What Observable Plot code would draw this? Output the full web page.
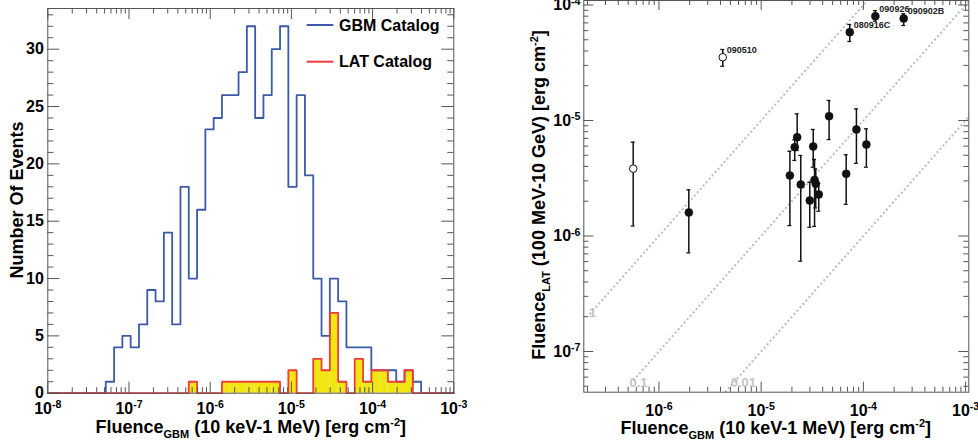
<!DOCTYPE html>
<html><head><meta charset="utf-8">
<script src="https://cdn.jsdelivr.net/npm/d3@7"></script>
<script src="https://cdn.jsdelivr.net/npm/@observablehq/plot@0.6"></script>
<style>
body{margin:0;background:#fff;}
#wrap{position:relative;width:978px;height:444px;overflow:hidden;background:#fff;}
#wrap svg{position:absolute;top:0;}
</style></head><body><div id="wrap"></div>
<script>
// ---------- data: left histogram ----------
const gbmCounts = [1,4,5,4,6,9,8,14,6,18,10,16,23,24,26,26,28,32,24,26,30,32,18,26,19,10,5,10,8,4,4,4,2,2,2,1,2,1];
const latCounts = [0,0,0,0,0,0,0,0,0,0,1,0,0,0,1,1,1,1,1,1,1,0,2,0,0,3,2,7,1,0,3,1,2,2,1,1,2,0];
const binStartLog = -7.286;   // log10 of first bin's lower edge
const binWidthLog = 0.1022;   // bin width in decades
const histXTicks = [1e-8, 1e-7, 1e-6, 1e-5, 1e-4, 1e-3];
const histYTicks = [0, 5, 10, 15, 20, 25, 30];
const legendNames = ["GBM Catalog", "LAT Catalog"];

// ---------- data: right scatter ----------
const grbX    = [5.60e-7, 1.96e-6, 4.21e-6, 7.36e-5, 1.31e-4, 2.48e-4, 1.91e-5, 2.13e-5, 2.25e-5, 2.44e-5, 2.99e-5, 3.23e-5, 3.33e-5, 3.42e-5, 3.66e-5, 4.62e-5, 6.79e-5, 8.55e-5, 1.07e-4];
const grbY    = [3.83e-6, 1.60e-6, 3.53e-5, 5.82e-5, 8.00e-5, 7.64e-5, 3.34e-6, 5.88e-6, 7.16e-6, 2.79e-6, 2.03e-6, 5.96e-6, 3.06e-6, 2.83e-6, 2.29e-6, 1.09e-5, 3.45e-6, 8.36e-6, 6.20e-6];
const grbYLo  = [1.22e-6, 7.14e-7, 2.95e-5, 4.83e-5, 7.24e-5, 6.65e-5, 1.23e-6, 4.51e-6, 5.50e-6, 6.05e-7, 1.19e-6, 3.94e-6, 1.21e-6, 1.75e-6, 1.64e-6, 6.84e-6, 1.88e-6, 4.26e-6, 3.94e-6];
const grbYHi  = [6.49e-6, 2.51e-6, 4.12e-5, 6.78e-5, 8.95e-5, 8.39e-5, 5.42e-6, 6.80e-6, 1.14e-5, 4.98e-6, 2.92e-6, 8.36e-6, 4.60e-6, 3.80e-6, 2.85e-6, 1.49e-5, 5.05e-6, 1.26e-5, 8.47e-6];
const grbOpen = [true, false, true, false, false, false, false, false, false, false, false, false, false, false, false, false, false, false, false];
const grbName = ["", "", "090510", "080916C", "090926", "090902B", "", "", "", "", "", "", "", "", "", "", "", "", ""];
const ratioValues = [1, 0.1, 0.01];
const ratioLabels = ["1", "0.1", "0.01"];
const ratioStartX = [2.1e-7, 5.6e-7, 4.44e-6];
const ratioEndX   = [1.09e-4, 1.07e-3, 1.07e-3];
const ratioLabelX = [2.25e-7, 6.3e-7, 6.7e-6];
const ratioLabelY = [2.15e-7, 5.35e-8, 5.35e-8];
const scatXTicks = [1e-6, 1e-5, 1e-4, 1e-3];
const scatYTicks = [1e-7, 1e-6, 1e-5, 1e-4];

// ---------- styles ----------
const FONT = '"Liberation Sans", Arial, Helvetica, sans-serif';
const FRAME = "#555";
const BLUE = "#3b5ba9", RED = "#f23c3c", YELLOW = "#f2e612";

const pow10 = d => "10^" + Math.round(Math.log10(d));
const minorDec = (lo, hi) => d3.range(lo, hi).flatMap(e => d3.range(2, 10).map(m => m * Math.pow(10, e)));

// ---------- left panel ----------
const LW = 490, LH = 444, LM = {l: 47.3, r: 36.7, t: 8, b: 51.3};
const innerWL = LW - LM.l - LM.r, innerHL = LH - LM.t - LM.b;
const xDomL = [1e-8, 1e-3], yDomL = [0, 33.55];
const edges = d3.range(gbmCounts.length + 1).map(i => Math.pow(10, binStartLog + i * binWidthLog));
function stepPoints(counts) {
  const pts = [{x: xDomL[0], y: 0}, {x: edges[0], y: 0}];
  counts.forEach((c, i) => { pts.push({x: edges[i], y: c}, {x: edges[i + 1], y: c}); });
  pts.push({x: edges[counts.length], y: 0}, {x: xDomL[1], y: 0});
  return pts;
}
const latBins = latCounts.map((c, i) => ({x1: edges[i], x2: edges[i + 1], c})).filter(d => d.c > 0);
const minorXL = minorDec(-8, -3);
const minorYL = d3.range(0, 34).filter(v => v % 5 !== 0);

const left = Plot.plot({
  width: LW, height: LH,
  marginLeft: LM.l, marginRight: LM.r, marginTop: LM.t, marginBottom: LM.b,
  style: {fontFamily: FONT, background: "transparent", overflow: "visible"},
  x: {type: "log", domain: xDomL},
  y: {domain: yDomL},
  marks: [
    Plot.rect(latBins, {x1: "x1", x2: "x2", y1: d => 0, y2: "c", fill: YELLOW}),
    Plot.line(stepPoints(gbmCounts), {x: "x", y: "y", stroke: BLUE, strokeWidth: 1.8}),
    Plot.line(stepPoints(latCounts), {x: "x", y: "y", stroke: RED, strokeWidth: 1.8}),
    Plot.frame({stroke: FRAME}),
    Plot.tickX(histXTicks, {x: d => d, insetTop: innerHL - 11, stroke: FRAME}),
    Plot.tickX(histXTicks, {x: d => d, insetBottom: innerHL - 11, stroke: FRAME}),
    Plot.tickX(minorXL, {x: d => d, insetTop: innerHL - 5.5, stroke: FRAME}),
    Plot.tickX(minorXL, {x: d => d, insetBottom: innerHL - 5.5, stroke: FRAME}),
    Plot.tickY(histYTicks, {y: d => d, insetRight: innerWL - 12, stroke: FRAME}),
    Plot.tickY(histYTicks, {y: d => d, insetLeft: innerWL - 12, stroke: FRAME}),
    Plot.tickY(minorYL, {y: d => d, insetRight: innerWL - 6, stroke: FRAME}),
    Plot.tickY(minorYL, {y: d => d, insetLeft: innerWL - 6, stroke: FRAME}),
    Plot.axisX({ticks: histXTicks, tickSize: 0, tickPadding: 9, tickFormat: pow10, fontSize: 16, fontWeight: "bold", label: null}),
    Plot.axisY({ticks: histYTicks, tickSize: 0, tickPadding: 4, fontSize: 16, fontWeight: "bold", label: null})
  ]
});

// ---------- right panel ----------
const RW = 488, RH = 444, RM = {l: 93.3, r: 9.7, t: 0, b: 52.3};
const innerWR = RW - RM.l - RM.r, innerHR = RH - RM.t - RM.b;
const xDomR = [1.84e-7, 1.075e-3], yDomR = [4.44e-8, 1.094e-4];
const grbs = grbX.map((x, i) => ({x, y: grbY[i], lo: grbYLo[i], hi: grbYHi[i], open: grbOpen[i], name: grbName[i]}));
const diag = ratioValues.map((r, i) => ({x1: ratioStartX[i], y1: ratioStartX[i] * r, x2: ratioEndX[i], y2: ratioEndX[i] * r}));
const diagLabels = ratioLabels.map((t, i) => ({t, x: ratioLabelX[i], y: ratioLabelY[i]}));
const minorXR = minorDec(-7, -3).filter(v => v >= xDomR[0] && v <= xDomR[1]);
const minorYR = minorDec(-8, -4).filter(v => v >= yDomR[0] && v <= yDomR[1]);
const capF = 1.045;

const right = Plot.plot({
  width: RW, height: RH,
  marginLeft: RM.l, marginRight: RM.r, marginTop: RM.t, marginBottom: RM.b,
  style: {fontFamily: FONT, background: "transparent", overflow: "visible"},
  x: {type: "log", domain: xDomR},
  y: {type: "log", domain: yDomR},
  marks: [
    Plot.link(diag, {x1: "x1", y1: "y1", x2: "x2", y2: "y2", stroke: "#bdbdbd", strokeWidth: 2, strokeDasharray: "2,2.5"}),
    Plot.text(diagLabels, {x: "x", y: "y", text: "t", fill: "#c4c4c4", fontSize: 13, fontWeight: "bold"}),
    Plot.ruleX(grbs, {x: "x", y1: "lo", y2: "hi", stroke: "#111", strokeWidth: 1.5}),
    Plot.ruleY(grbs, {y: "hi", x1: d => d.x / capF, x2: d => d.x * capF, stroke: "#111", strokeWidth: 1.3}),
    Plot.ruleY(grbs, {y: "lo", x1: d => d.x / capF, x2: d => d.x * capF, stroke: "#111", strokeWidth: 1.3}),
    Plot.dot(grbs.filter(d => !d.open), {x: "x", y: "y", r: 4, fill: "#111", stroke: "#111", strokeWidth: 0.5}),
    Plot.dot(grbs.filter(d => d.open), {x: "x", y: "y", r: 3.8, fill: "white", stroke: "#111", strokeWidth: 1}),
    Plot.text(grbs.filter(d => d.name), {x: "x", y: "y", text: "name", dx: 4, dy: -7, textAnchor: "start", fontSize: 9, fontWeight: "bold", fill: "#222"}),
    Plot.frame({stroke: FRAME}),
    Plot.tickX(scatXTicks, {x: d => d, insetTop: innerHR - 10, stroke: FRAME}),
    Plot.tickX(scatXTicks, {x: d => d, insetBottom: innerHR - 10, stroke: FRAME}),
    Plot.tickX(minorXR, {x: d => d, insetTop: innerHR - 5, stroke: FRAME}),
    Plot.tickX(minorXR, {x: d => d, insetBottom: innerHR - 5, stroke: FRAME}),
    Plot.tickY(scatYTicks, {y: d => d, insetRight: innerWR - 10, stroke: FRAME}),
    Plot.tickY(scatYTicks, {y: d => d, insetLeft: innerWR - 10, stroke: FRAME}),
    Plot.tickY(minorYR, {y: d => d, insetRight: innerWR - 5, stroke: FRAME}),
    Plot.tickY(minorYR, {y: d => d, insetLeft: innerWR - 5, stroke: FRAME}),
    Plot.axisX({ticks: scatXTicks, tickSize: 0, tickPadding: 12, tickFormat: pow10, fontSize: 16, fontWeight: "bold", label: null}),
    Plot.axisY({ticks: scatYTicks, tickSize: 0, tickPadding: 3.3, tickFormat: pow10, fontSize: 16, fontWeight: "bold", label: null})
  ]
});

const wrap = document.getElementById("wrap");
left.style.left = "0px";
right.style.left = "490px";
wrap.appendChild(left);
wrap.appendChild(right);

// superscript exponents in tick labels
function supify(svg) {
  d3.select(svg).selectAll('g[aria-label$="tick label"] text').each(function () {
    const t = this.textContent;
    const i = t.indexOf("^");
    if (i < 0) return;
    const sel = d3.select(this);
    sel.text(null);
    sel.append("tspan").text(t.slice(0, i));
    sel.append("tspan").attr("dy", "-0.5em").attr("font-size", "0.66em").text(t.slice(i + 1));
  });
}
supify(left);
supify(right);

function addTitle(svg, x, y, rotate, parts) {
  const t = d3.select(svg).append("text")
    .attr("transform", `translate(${x},${y})` + (rotate ? " rotate(-90)" : ""))
    .attr("text-anchor", "middle").attr("font-family", FONT)
    .attr("font-weight", "bold").attr("font-size", 18).attr("fill", "#000");
  let shift = 0;
  parts.forEach(([txt, kind]) => {
    const target = kind === "sub" ? 5 : kind === "sup" ? -7 : 0;
    const sp = t.append("tspan").attr("dy", target - shift).text(txt);
    if (kind) sp.attr("font-size", 11);
    shift = target;
  });
}
addTitle(left, 250.8, 432.5, false, [["Fluence"], ["GBM", "sub"], [" (10 keV-1 MeV) [erg cm"], ["-2", "sup"], ["]"]]);
addTitle(left, 23, 200, true, [["Number Of Events"]]);
addTitle(right, 285.8, 433.5, false, [["Fluence"], ["GBM", "sub"], [" (10 keV-1 MeV) [erg cm"], ["-2", "sup"], ["]"]]);
addTitle(right, 55, 195, true, [["Fluence"], ["LAT", "sub"], [" (100 MeV-10 GeV) [erg cm"], ["-2", "sup"], ["]"]]);

// legend
const lg = d3.select(left).append("g").attr("font-family", FONT).attr("font-weight", "bold")
  .attr("font-size", 16).attr("text-anchor", "start");
[[legendNames[0], BLUE, 25], [legendNames[1], RED, 61.7]].forEach(([name, col, yy]) => {
  lg.append("line").attr("x1", 306.7).attr("x2", 333.3).attr("y1", yy).attr("y2", yy).attr("stroke", col).attr("stroke-width", 2);
  lg.append("text").attr("x", 339).attr("y", yy).attr("dy", "0.35em").attr("fill", "#000").attr("text-anchor", "start").text(name);
});
</script></body></html>
